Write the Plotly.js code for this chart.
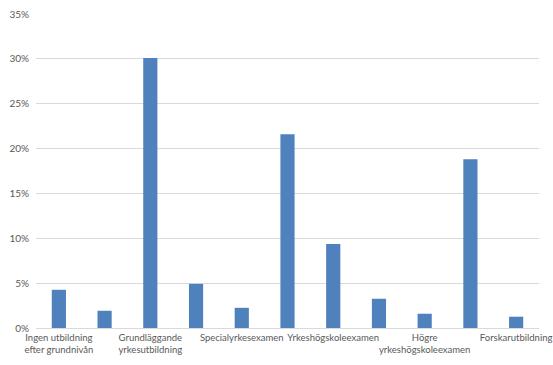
<!DOCTYPE html>
<html>
<head>
<meta charset="utf-8">
<script src="https://cdn.plot.ly/plotly-3.0.1.min.js"></script>
<style>html,body{margin:0;padding:0;background:#fff;}#chart{width:553px;height:365px;}</style>
</head>
<body>
<div id="chart"></div>
<script>
// Only every other category label is shown in the reference
var categories = [
  "Ingen utbildning<br>efter grundnivån", "",
  "Grundläggande<br>yrkesutbildning", "",
  "Specialyrkesexamen", "",
  "Yrkeshögskoleexamen", "",
  "Högre<br>yrkeshögskoleexamen", "",
  "Forskarutbildning"
];
var values = [0.0426, 0.0192, 0.301, 0.0492, 0.0225, 0.216, 0.0937, 0.0326, 0.0159, 0.188, 0.0126];
var yTicks = [0, 0.05, 0.10, 0.15, 0.20, 0.25, 0.30, 0.35];

var idx = categories.map(function(_, i){ return i; });

var trace = {
  type: 'bar',
  x: idx,
  y: values,
  marker: {color: '#4f81bd'},
  hoverinfo: 'y'
};

var layout = {
  width: 553, height: 365,
  margin: {l: 36, r: 14, t: 14, b: 37},
  paper_bgcolor: '#ffffff',
  plot_bgcolor: '#ffffff',
  bargap: 0.69,
  showlegend: false,
  font: {family: 'Lato, "Open Sans", sans-serif', size: 9.5, color: '#595959'},
  xaxis: {
    range: [-0.5, categories.length - 0.5],
    tickmode: 'array',
    tickvals: idx,
    ticktext: categories,
    showgrid: false,
    zeroline: false,
    showline: false,
    ticks: '',
    tickangle: 0,
    ticklabelstandoff: 2,
    tickfont: {size: 9.5, color: '#595959'}
  },
  yaxis: {
    range: [0, 0.35],
    tickmode: 'array',
    tickvals: yTicks,
    tickformat: '.0%',
    showgrid: true,
    gridcolor: '#d9d9d9',
    gridwidth: 1,
    zeroline: true,
    zerolinecolor: '#d9d9d9',
    zerolinewidth: 1,
    showline: false,
    ticks: '',
    ticklabelstandoff: 6,
    tickfont: {size: 10, color: '#595959'}
  }
};

Plotly.newPlot('chart', [trace], layout, {displayModeBar: false, staticPlot: true});
</script>
</body>
</html>
